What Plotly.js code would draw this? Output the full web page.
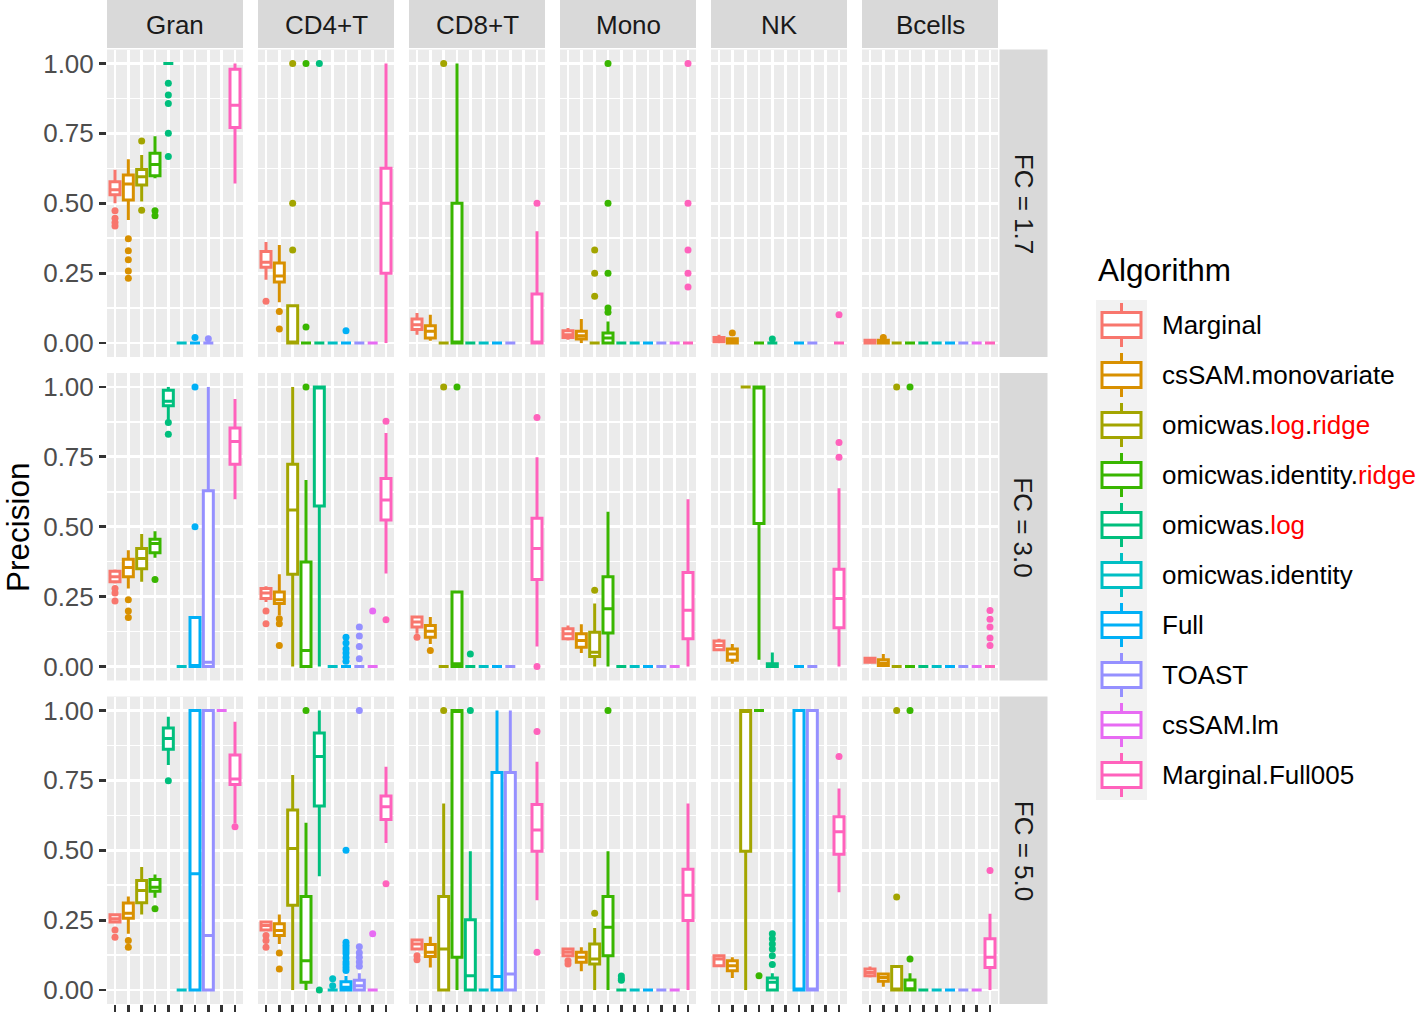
<!DOCTYPE html>
<html>
<head>
<meta charset="utf-8">
<script src="https://cdn.plot.ly/plotly-3.0.1.min.js"></script>
<style>html,body{margin:0;padding:0;background:#fff;}#chart{width:1425px;height:1012px;}</style>
</head>
<body>
<div id="chart"></div>
<script>
// ---------------- DATA ----------------
const algorithms = ['Marginal','csSAM.monovariate','omicwas.log.ridge','omicwas.identity.ridge','omicwas.log','omicwas.identity','Full','TOAST','csSAM.lm','Marginal.Full005'];
const cellTypes = ['Gran','CD4+T','CD8+T','Mono','NK','Bcells'];
const fcLevels = ['FC = 1.7','FC = 3.0','FC = 5.0'];
const yTickVals = [0, 0.25, 0.5, 0.75, 1];
const yTickText = ['0.00','0.25','0.50','0.75','1.00'];

// box stats per algorithm: [lower whisker, q1, median, q3, upper whisker]; null = not present
// ---- FC = 1.7 ----
const gran_fc17 = [[0.50,0.53,0.548,0.577,0.62],[0.44,0.512,0.569,0.601,0.657],[0.506,0.565,0.595,0.621,0.673],[0.589,0.598,0.639,0.679,0.74],[1,1,1,1,1],[0,0,0,0,0],[0,0,0,0,0],[0,0,0,0,0],null,[0.571,0.771,0.851,0.979,1.0]];
const gran_fc17_out = [[0.473,0.446,0.431,0.419],[0.373,0.33,0.298,0.258,0.232],[0.723,0.475],[0.473,0.455],[0.929,0.887,0.857,0.75,0.667],[],[0.02],[0.015],[],[]];
const cd4_fc17 = [[0.226,0.271,0.289,0.327,0.361],[0.146,0.218,0.240,0.286,0.351],[0,0,0,0.133,0.133],[0,0,0,0,0],[0,0,0,0,0],[0,0,0,0,0],[0,0,0,0,0],[0,0,0,0,0],[0,0,0,0,0],[0,0.25,0.5,0.625,1.0]];
const cd4_fc17_out = [[0.149],[0.113,0.05],[1.0,0.5,0.333],[1.0,0.057],[1.0],[],[0.044],[],[],[]];
const cd8_fc17 = [[0.03,0.048,0.065,0.086,0.107],[0.008,0.018,0.042,0.062,0.101],[0,0,0,0,0],[0,0,0,0.5,1.0],[0,0,0,0,0],[0,0,0,0,0],[0,0,0,0,0],[0,0,0,0,0],null,[0,0,0,0.175,0.40]];
const cd8_fc17_out = [[],[],[1.0],[],[],[],[],[],[],[0.5]];
const mono_fc17 = [[0.012,0.02,0.03,0.044,0.054],[0,0.014,0.026,0.042,0.086],[0,0,0,0,0],[0,0,0.018,0.036,0.077],[0,0,0,0,0],[0,0,0,0,0],[0,0,0,0,0],[0,0,0,0,0],[0,0,0,0,0],[0,0,0,0,0]];
const mono_fc17_out = [[],[],[0.333,0.25,0.167],[1.0,0.5,0.25,0.125,0.11],[],[],[],[],[],[1.0,0.5,0.333,0.25,0.2]];
const nk_fc17 = [[0,0.005,0.012,0.02,0.03],[0,0,0.005,0.015,0.02],null,[0,0,0,0,0],[0,0,0,0,0],null,[0,0,0,0,0],[0,0,0,0,0],null,[0,0,0,0,0]];
const nk_fc17_out = [[],[0.036],[],[],[0.014],[],[],[],[],[0.101]];
const bcells_fc17 = [[0,0,0.005,0.01,0.015],[0,0,0,0.01,0.01],[0,0,0,0,0],[0,0,0,0,0],[0,0,0,0,0],[0,0,0,0,0],[0,0,0,0,0],[0,0,0,0,0],[0,0,0,0,0],[0,0,0,0,0]];
const bcells_fc17_out = [[],[0.02],[],[],[],[],[],[],[],[]];

// ---- FC = 3.0 ----
const gran_fc30 = [[0.297,0.303,0.321,0.341,0.347],[0.279,0.321,0.354,0.384,0.416],[0.303,0.35,0.386,0.422,0.474],[0.389,0.407,0.44,0.455,0.484],[0.883,0.933,0.949,0.988,1.0],[0,0,0,0,0],[0,0,0,0.175,0.175],[0,0,0.015,0.629,1.0],null,[0.598,0.724,0.805,0.853,0.957]];
const gran_fc30_out = [[0.279,0.263,0.234],[0.239,0.199,0.175],[],[0.311],[0.873,0.831],[],[1.0,0.5],[],[],[]];
const cd4_fc30 = [[0.231,0.243,0.263,0.279,0.287],[0.183,0.225,0.239,0.267,0.33],[0,0.33,0.56,0.724,1.0],[0,0,0.057,0.374,0.667],[0,0.574,1.0,1.0,1.0],[0,0,0,0,0],[0,0,0,0,0],[0,0,0,0,0],[0,0,0,0,0],[0.333,0.524,0.596,0.673,0.835]];
const cd4_fc30_out = [[0.199,0.153],[0.171,0.153,0.075],[],[1.0],[],[],[0.105,0.084,0.063,0.048,0.033,0.019],[0.141,0.109,0.072,0.028],[0.199],[0.877,0.167]];
const cd8_fc30 = [[0.117,0.141,0.159,0.177,0.18],[0.081,0.105,0.126,0.147,0.177],[0,0,0,0,0],[0,0,0.01,0.267,0.267],[0,0,0,0,0],[0,0,0,0,0],[0,0,0,0,0],[0,0,0,0,0],null,[0.072,0.311,0.422,0.53,0.749]];
const cd8_fc30_out = [[0.105],[0.057],[1.0],[1.0],[0.045],[],[],[],[],[0.891,0]];
const mono_fc30 = [[0.093,0.099,0.117,0.135,0.147],[0.048,0.069,0.093,0.117,0.151],[0,0.036,0.051,0.123,0.225],[0,0.12,0.207,0.321,0.554],[0,0,0,0,0],[0,0,0,0,0],[0,0,0,0,0],[0,0,0,0,0],[0,0,0,0,0],[0,0.099,0.201,0.336,0.598]];
const mono_fc30_out = [[],[],[0.273],[],[],[],[],[],[],[]];
const nk_fc30 = [[0.057,0.06,0.075,0.091,0.099],[0.01,0.022,0.045,0.063,0.081],[1,1,1,1,1],[0.024,0.512,1.0,1.0,1.0],[0,0,0,0.01,0.05],null,[0,0,0,0,0],[0,0,0,0,0],null,[0,0.139,0.243,0.348,0.638]];
const nk_fc30_out = [[],[],[],[],[],[],[],[],[],[0.801,0.749]];
const bcells_fc30 = [[0.01,0.015,0.022,0.03,0.035],[0,0.004,0.012,0.024,0.045],[0,0,0,0,0],[0,0,0,0,0],[0,0,0,0,0],[0,0,0,0,0],[0,0,0,0,0],[0,0,0,0,0],[0,0,0,0,0],[0,0,0,0,0]];
const bcells_fc30_out = [[],[],[1.0],[1.0],[],[],[],[],[],[0.2,0.169,0.141,0.102,0.075]];

// ---- FC = 5.0 ----
const gran_fc50 = [[0.24,0.243,0.255,0.269,0.275],[0.201,0.257,0.275,0.311,0.335],[0.27,0.312,0.356,0.392,0.44],[0.33,0.353,0.368,0.395,0.413],[0.805,0.861,0.90,0.937,0.978],[0,0,0,0,0],[0,0,0.416,1.0,1.0],[0,0,0.195,1.0,1.0],[1,1,1,1,1],[0.596,0.735,0.755,0.841,0.96]];
const gran_fc50_out = [[0.215,0.189],[0.177,0.153],[],[0.291],[0.749],[],[],[],[],[0.584]];
const cd4_fc50 = [[0.213,0.215,0.231,0.243,0.249],[0.165,0.195,0.213,0.237,0.27],[0,0.303,0.506,0.644,0.769],[0,0.028,0.105,0.335,0.598],[0.407,0.658,0.835,0.919,1.0],[0,0,0,0,0],[0,0,0.01,0.03,0.05],[0,0,0.015,0.035,0.06],[0,0,0,0,0],[0.526,0.61,0.656,0.694,0.799]];
const cd4_fc50_out = [[0.195,0.177,0.153],[0.132,0.075],[],[1.0],[0],[0.04,0.015],[0.5,0.171,0.16,0.15,0.14,0.13,0.115,0.1,0.09,0.08,0.07],[1.0,0.155,0.133,0.117,0.1,0.085],[0.201],[0.38]];
const cd8_fc50 = [[0.141,0.147,0.165,0.179,0.183],[0.081,0.12,0.135,0.163,0.191],[0,0,0.147,0.335,0.667],[0,0.117,1.0,1.0,1.0],[0,0,0.051,0.251,0.496],[0,0,0,0,0],[0,0,0.048,0.778,1.0],[0,0,0.057,0.778,1.0],null,[0.321,0.496,0.572,0.664,0.817]];
const cd8_fc50_out = [[0.123,0.108],[],[1.0],[],[1.0],[],[],[],[],[0.925,0.135]];
const mono_fc50 = [[0.117,0.123,0.135,0.147,0.15],[0.067,0.099,0.117,0.135,0.153],[0,0.093,0.111,0.165,0.222],[0,0.123,0.225,0.335,0.496],[0,0,0,0,0],[0,0,0,0,0],[0,0,0,0,0],[0,0,0,0,0],[0,0,0,0,0],[0,0.249,0.339,0.432,0.667]];
const mono_fc50_out = [[0.105,0.093],[],[0.275],[1.0],[0.05,0.04,0.035],[],[],[],[],[]];
const nk_fc50 = [[0.084,0.087,0.111,0.123,0.127],[0.043,0.069,0.087,0.105,0.117],[0,0.496,1.0,1.0,1.0],[1,1,1,1,1],[0,0,0.028,0.043,0.06],null,[0,0,0,1.0,1.0],[0,0,0,1.0,1.0],null,[0.35,0.486,0.566,0.62,0.721]];
const nk_fc50_out = [[],[],[],[0.051],[0.201,0.183,0.165,0.147,0.123,0.091],[],[],[],[],[0.835]];
const bcells_fc50 = [[0.045,0.051,0.063,0.075,0.084],[0.012,0.031,0.045,0.057,0.063],[0,0,0.004,0.084,0.084],[0,0,0.005,0.036,0.06],[0,0,0,0,0],[0,0,0,0,0],[0,0,0,0,0],[0,0,0,0,0],[0,0,0,0,0],[0,0.081,0.117,0.183,0.273]];
const bcells_fc50_out = [[],[],[1.0,0.333],[1.0,0.111],[],[],[],[],[],[0.428]];

// ---------------- STYLE ----------------
const colors = ['#F8766D','#D89000','#A3A500','#39B600','#00BF7D','#00BFC4','#00B0F6','#9590FF','#E76BF3','#FF62BC'];
const legendLabels = ['Marginal','csSAM.monovariate',
  'omicwas.<span style="color:#FF0000">log</span>.<span style="color:#FF0000">ridge</span>',
  'omicwas.identity.<span style="color:#FF0000">ridge</span>',
  'omicwas.<span style="color:#FF0000">log</span>',
  'omicwas.identity','Full','TOAST','csSAM.lm','Marginal.Full005'];

const panelStats = [
  [gran_fc17, cd4_fc17, cd8_fc17, mono_fc17, nk_fc17, bcells_fc17],
  [gran_fc30, cd4_fc30, cd8_fc30, mono_fc30, nk_fc30, bcells_fc30],
  [gran_fc50, cd4_fc50, cd8_fc50, mono_fc50, nk_fc50, bcells_fc50]];
const panelOut = [
  [gran_fc17_out, cd4_fc17_out, cd8_fc17_out, mono_fc17_out, nk_fc17_out, bcells_fc17_out],
  [gran_fc30_out, cd4_fc30_out, cd8_fc30_out, mono_fc30_out, nk_fc30_out, bcells_fc30_out],
  [gran_fc50_out, cd4_fc50_out, cd8_fc50_out, mono_fc50_out, nk_fc50_out, bcells_fc50_out]];

const W = 1425, H = 1012;
const PL = [107, 258, 409, 560, 711, 862], PW = 136;
const RT = [49.5, 373, 696.5], PH = 307.5;
const FONT = 'Liberation Sans, Arial, Helvetica, sans-serif';
const SMALL = 26, BIG = 31.5;
const px = v => v / W, py = v => 1 - v / H;

const traces = [];
const layout = {
  width: W, height: H, margin: {l:0, r:0, t:0, b:0},
  paper_bgcolor: 'white', plot_bgcolor: '#EBEBEB',
  showlegend: false, font: {family: FONT}, shapes: [], annotations: []
};

for (let r = 0; r < 3; r++) {
  for (let c = 0; c < 6; c++) {
    const k = r * 6 + c + 1;
    const xs = k === 1 ? '' : String(k);
    layout['xaxis' + xs] = {
      domain: [px(PL[c]), px(PL[c] + PW)], range: [0.4, 10.6], anchor: 'y' + xs,
      tickvals: algorithms.map((a, i) => i + 1), showticklabels: false,
      ticks: r === 2 ? 'outside' : '', ticklen: 7, tickwidth: 2.8, tickcolor: '#333333',
      showgrid: true, gridcolor: 'white', gridwidth: 2.8, zeroline: false, showline: false, fixedrange: true
    };
    layout['yaxis' + xs] = {
      domain: [py(RT[r] + PH), py(RT[r])], range: [-0.05, 1.05], anchor: 'x' + xs,
      tickvals: yTickVals, ticktext: yTickText, showticklabels: c === 0,
      ticks: c === 0 ? 'outside' : '', ticklen: 7, tickwidth: 2.8, tickcolor: '#333333',
      tickfont: {size: SMALL, color: '#4D4D4D', family: FONT},
      showgrid: true, gridcolor: 'white', gridwidth: 2.8, zeroline: false, showline: false, fixedrange: true,
      minor: {tickvals: [0.125, 0.375, 0.625, 0.875], showgrid: true, gridcolor: 'white', gridwidth: 1.4}
    };
    const stats = panelStats[r][c], outs = panelOut[r][c];
    for (let i = 0; i < algorithms.length; i++) {
      const s = stats[i];
      if (s) {
        traces.push({
          type: 'box', x: [i + 1], lowerfence: [s[0]], q1: [s[1]], median: [s[2]], q3: [s[3]], upperfence: [s[4]],
          width: 0.75, whiskerwidth: 0, boxpoints: false, fillcolor: 'white',
          line: {color: colors[i], width: 3}, xaxis: 'x' + xs, yaxis: 'y' + xs,
          name: algorithms[i], hoverinfo: 'skip', showlegend: false
        });
      }
    }
    for (let i = 0; i < algorithms.length; i++) {
      const o = outs[i];
      if (o && o.length) {
        traces.push({
          type: 'scatter', mode: 'markers', x: o.map(() => i + 1), y: o,
          marker: {color: colors[i], size: 7, line: {width: 0}},
          xaxis: 'x' + xs, yaxis: 'y' + xs, hoverinfo: 'skip', showlegend: false
        });
      }
    }
  }
}

// facet strips
cellTypes.forEach((ct, c) => {
  layout.shapes.push({type: 'rect', xref: 'paper', yref: 'paper', x0: px(PL[c]), x1: px(PL[c] + PW), y0: py(48), y1: py(0),
    fillcolor: '#D9D9D9', line: {width: 0}, layer: 'below'});
  layout.annotations.push({xref: 'paper', yref: 'paper', x: px(PL[c] + PW / 2), y: py(24.5), text: ct, showarrow: false,
    xanchor: 'center', yanchor: 'middle', font: {size: SMALL, color: '#1A1A1A', family: FONT}});
});
fcLevels.forEach((fc, r) => {
  layout.shapes.push({type: 'rect', xref: 'paper', yref: 'paper', x0: px(999.5), x1: px(1047.5), y0: py(RT[r] + PH), y1: py(RT[r]),
    fillcolor: '#D9D9D9', line: {width: 0}, layer: 'below'});
  layout.annotations.push({xref: 'paper', yref: 'paper', x: px(1023.5), y: py(RT[r] + PH / 2), text: fc, showarrow: false,
    textangle: 90, xanchor: 'center', yanchor: 'middle', font: {size: SMALL, color: '#1A1A1A', family: FONT}});
});

// y-axis title
layout.annotations.push({xref: 'paper', yref: 'paper', x: px(18), y: py(527), text: 'Precision', showarrow: false,
  textangle: -90, xanchor: 'center', yanchor: 'middle', font: {size: BIG, color: '#000000', family: FONT}});

// legend (drawn manually, ggplot style)
layout.annotations.push({xref: 'paper', yref: 'paper', x: px(1096), y: py(270), text: 'Algorithm', showarrow: false,
  xanchor: 'left', yanchor: 'middle', font: {size: BIG, color: '#000000', family: FONT}});
layout.shapes.push({type: 'rect', xref: 'paper', yref: 'paper', x0: px(1096), x1: px(1147), y0: py(800), y1: py(300),
  fillcolor: '#F2F2F2', line: {width: 0}});
algorithms.forEach((a, i) => {
  const cy = 325 + 50 * i, cx = 1121.5;
  layout.shapes.push({type: 'line', xref: 'paper', yref: 'paper', x0: px(cx), x1: px(cx), y0: py(cy + 22), y1: py(cy - 22),
    line: {color: colors[i], width: 3}});
  layout.shapes.push({type: 'rect', xref: 'paper', yref: 'paper', x0: px(1102), x1: px(1141), y0: py(cy + 12.5), y1: py(cy - 12.5),
    fillcolor: 'white', line: {color: colors[i], width: 3}});
  layout.shapes.push({type: 'line', xref: 'paper', yref: 'paper', x0: px(1102), x1: px(1141), y0: py(cy), y1: py(cy),
    line: {color: colors[i], width: 3}});
  layout.annotations.push({xref: 'paper', yref: 'paper', x: px(1160), y: py(cy), text: legendLabels[i], showarrow: false,
    xanchor: 'left', yanchor: 'middle', font: {size: SMALL, color: '#000000', family: FONT}});
});

Plotly.newPlot('chart', traces, layout, {staticPlot: true, displayModeBar: false});
</script>
</body>
</html>
